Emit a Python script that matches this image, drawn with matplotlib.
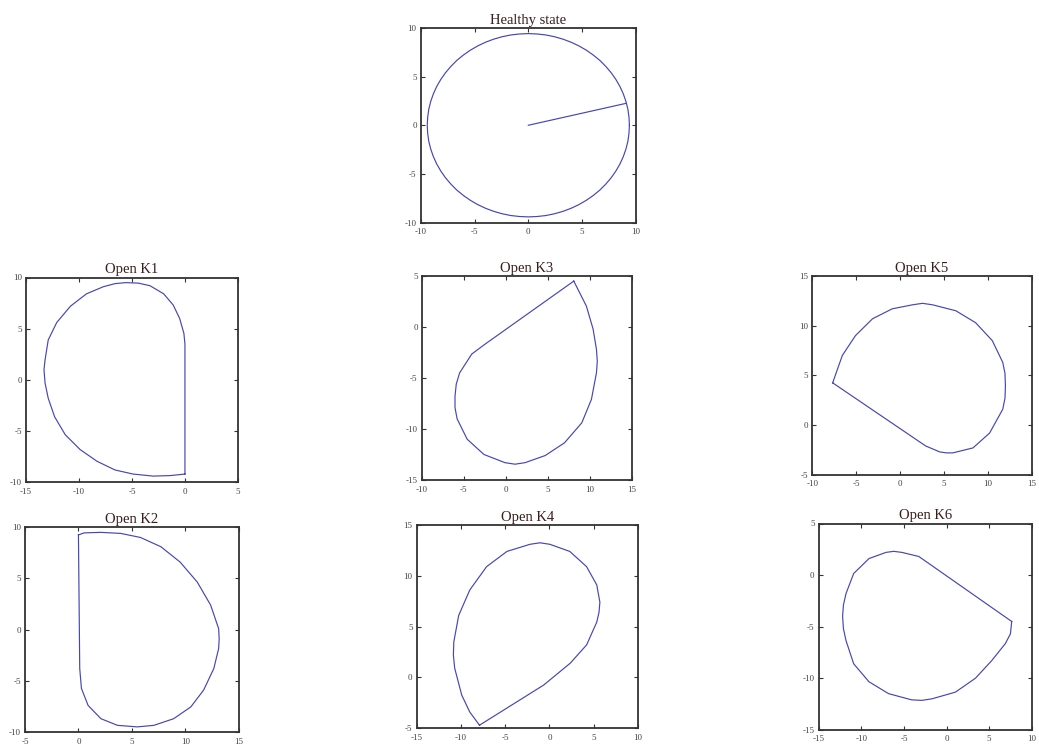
import matplotlib
matplotlib.use('Agg')
import matplotlib.pyplot as plt

plt.rcParams['axes.unicode_minus'] = False

# Healthy state: near-circular trajectory (radius ~9.4), one quadrant read off every 5 deg,
# mirrored for the rest, plus the radius line
quad_x = [9.4, 9.36, 9.26, 9.08, 8.83, 8.52, 8.14, 7.7, 7.2, 6.65, 6.04, 5.39, 4.7, 3.97, 3.22, 2.43, 1.63, 0.82, 0.0]
quad_y = [0.0, 0.82, 1.63, 2.43, 3.22, 3.97, 4.7, 5.39, 6.04, 6.65, 7.2, 7.7, 8.14, 8.52, 8.83, 9.08, 9.26, 9.36, 9.4]
healthy_x = quad_x + [-v for v in quad_x[::-1]] + [-v for v in quad_x] + quad_x[::-1]
healthy_y = quad_y + quad_y[::-1] + [-v for v in quad_y] + [-v for v in quad_y[::-1]]
radius_x = [0.0, 9.1]
radius_y = [0.0, 2.25]

k1_x = [0.0, 0.0, -0.1, -0.5, -1.1, -2.0, -3.3, -4.4, -5.6, -6.6, -7.7, -9.3, -10.8, -12.1, -12.9, -13.2,
        -13.3, -13.2, -12.9, -12.3, -11.3, -9.9, -8.3, -6.6, -4.9, -3.0, -1.4, 0.0]
k1_y = [-9.2, 3.5, 4.55, 6.0, 7.3, 8.4, 9.2, 9.45, 9.5, 9.4, 9.1, 8.4, 7.2, 5.6, 3.9, 1.95,
        1.0, -0.3, -1.8, -3.6, -5.35, -6.8, -7.95, -8.8, -9.2, -9.4, -9.35, -9.2]

k2_x = [0.0, 0.12, 0.28, 0.9, 2.1, 3.65, 5.5, 7.05, 8.9, 10.5, 11.7, 12.65, 13.1, 13.15, 13.1, 12.35,
        11.1, 9.5, 7.7, 5.8, 3.95, 2.1, 0.53, 0.0]
k2_y = [9.25, -3.8, -5.75, -7.4, -8.7, -9.35, -9.5, -9.35, -8.7, -7.55, -5.9, -3.8, -1.85, -0.9, 0.1, 2.4,
        4.65, 6.6, 8.1, 9.0, 9.4, 9.5, 9.45, 9.25]

k3_x = [8.1, -2.5, -4.05, -5.5, -5.9, -6.05, -6.05, -5.8, -4.6, -2.6, -0.1, 1.1, 2.3, 4.7, 7.0, 9.05,
        10.2, 10.8, 10.9, 10.8, 10.4, 9.6, 8.1]
k3_y = [4.5, -1.7, -2.65, -4.5, -5.6, -6.8, -7.9, -9.0, -11.0, -12.5, -13.3, -13.45, -13.3, -12.6, -11.35,
        -9.4, -7.1, -4.5, -3.35, -2.2, -0.2, 2.05, 4.5]

k4_x = [-7.9, -0.65, 2.35, 4.2, 5.35, 5.6, 5.7, 5.35, 4.2, 2.3, 0.05, -1.07, -2.2, -4.8, -7.1, -9.0,
        -10.25, -10.8, -10.85, -10.7, -9.9, -9.0, -7.9]
k4_y = [-4.7, -0.75, 1.4, 3.2, 5.45, 6.4, 7.4, 9.1, 10.9, 12.4, 13.1, 13.25, 13.1, 12.4, 10.9, 8.6,
        6.1, 3.5, 2.2, 0.9, -1.75, -3.4, -4.7]

k5_x = [-7.7, 2.9, 4.5, 5.25, 6.0, 8.3, 10.2, 11.7, 11.95, 12.0, 11.95, 11.7, 10.5, 8.6, 6.35, 3.7,
        2.55, 1.4, -0.9, -3.15, -5.1, -6.6, -7.7]
k5_y = [4.25, -2.1, -2.7, -2.8, -2.8, -2.3, -0.8, 1.6, 2.7, 3.95, 5.2, 6.3, 8.5, 10.3, 11.5, 12.1,
        12.25, 12.1, 11.7, 10.7, 9.0, 7.0, 4.25]

k6_x = [7.65, -3.25, -5.25, -6.2, -7.1, -9.1, -10.9, -11.8, -12.1, -12.2, -12.1, -11.8, -10.9, -9.1,
        -6.8, -4.1, -2.9, -1.7, 1.05, 3.4, 5.3, 6.9, 7.5, 7.65]
k6_y = [-4.5, 1.8, 2.2, 2.3, 2.2, 1.6, 0.15, -1.8, -2.9, -4.0, -5.2, -6.35, -8.6, -10.35,
        -11.5, -12.1, -12.15, -12.0, -11.35, -10.0, -8.3, -6.65, -5.7, -4.5]

line_color = '#4646b4'
title_color = '#3a1c1c'


def make_panel(fig, rect, title, xs, ys, xlim, ylim):
    ax = fig.add_axes(rect)
    ax.plot(xs, ys, '-', color=line_color, linewidth=0.85, solid_joinstyle='round')
    ax.set_xlim(xlim)
    ax.set_ylim(ylim)
    ax.set_xticks(range(xlim[0], xlim[1] + 1, 5))
    ax.set_yticks(range(ylim[0], ylim[1] + 1, 5))
    ax.tick_params(direction='in', top=True, right=True, length=3, width=0.8,
                   labelsize=6.5, labelcolor='#444444', color='#333333')
    ax.tick_params(axis='x', pad=4)
    ax.tick_params(axis='y', pad=3)
    for lbl in ax.get_xticklabels() + ax.get_yticklabels():
        lbl.set_family('Liberation Serif')
    for sp in ax.spines.values():
        sp.set_linewidth(1.3)
        sp.set_color('#333333')
    ax.set_title(title, fontsize=10.5, family='Liberation Serif', color=title_color, pad=3)
    return ax


fig = plt.figure(figsize=(10.39, 7.5), dpi=100)

ax = make_panel(fig, [0.405, 0.703, 0.207, 0.26], 'Healthy state', healthy_x, healthy_y, (-10, 10), (-10, 10))
ax.plot(radius_x, radius_y, '-', color=line_color, linewidth=0.85)

make_panel(fig, [0.025, 0.357, 0.204, 0.273], 'Open K1', k1_x, k1_y, (-15, 5), (-10, 10))
make_panel(fig, [0.406, 0.36, 0.202, 0.272], 'Open K3', k3_x, k3_y, (-10, 15), (-15, 5))
make_panel(fig, [0.782, 0.367, 0.211, 0.265], 'Open K5', k5_x, k5_y, (-10, 15), (-5, 15))
make_panel(fig, [0.024, 0.024, 0.206, 0.273], 'Open K2', k2_x, k2_y, (-5, 15), (-10, 10))
make_panel(fig, [0.401, 0.029, 0.213, 0.271], 'Open K4', k4_x, k4_y, (-15, 10), (-5, 15))
make_panel(fig, [0.788, 0.027, 0.205, 0.275], 'Open K6', k6_x, k6_y, (-15, 10), (-15, 5))

fig.savefig('out.png', dpi=100)
